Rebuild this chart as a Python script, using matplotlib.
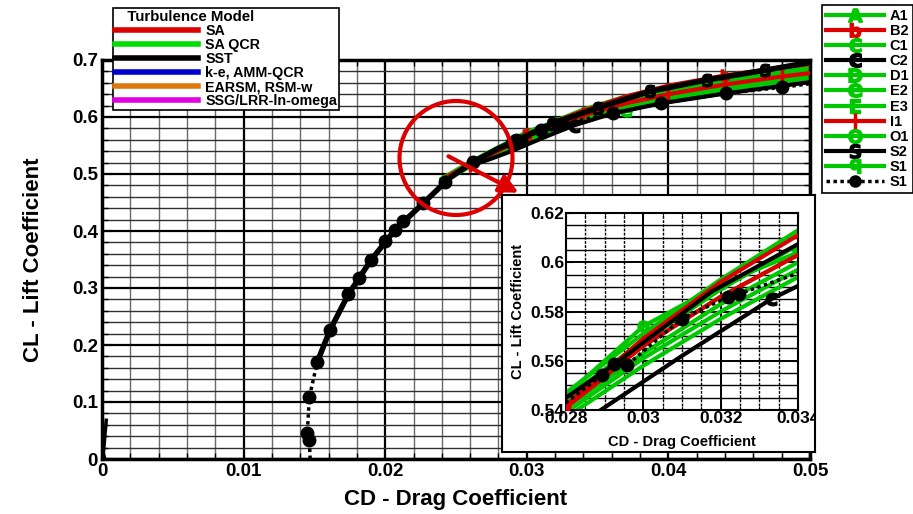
import matplotlib.pyplot as plt
from matplotlib.lines import Line2D
from matplotlib.patches import Ellipse, FancyArrowPatch
from matplotlib.ticker import MultipleLocator, FuncFormatter

plt.rcParams['font.family'] = ['Liberation Sans', 'DejaVu Sans']
plt.rcParams['font.weight'] = 'bold'
plt.rcParams['mathtext.fontset'] = 'dejavusans'

W, H = 913, 514
GREEN = '#00c800'
RED = '#dd0000'

# CD / CL polars
cd_bundle = [0.024, 0.026, 0.028, 0.030, 0.032, 0.034, 0.037, 0.040, 0.044, 0.048, 0.052]
cl_A1 = [0.492, 0.521, 0.547, 0.571, 0.593, 0.613, 0.636, 0.654, 0.671, 0.684, 0.695]
cl_C1 = [0.490, 0.519, 0.545, 0.568, 0.589, 0.607, 0.630, 0.649, 0.667, 0.680, 0.692]
cl_D1 = [0.488, 0.516, 0.541, 0.563, 0.583, 0.600, 0.622, 0.641, 0.660, 0.675, 0.687]
cl_E2 = [0.486, 0.513, 0.537, 0.558, 0.577, 0.594, 0.611, 0.630, 0.648, 0.662, 0.675]
cl_E3 = [0.489, 0.517, 0.543, 0.566, 0.586, 0.603, 0.626, 0.645, 0.663, 0.678, 0.690]
cl_O1 = [0.491, 0.520, 0.546, 0.574, 0.591, 0.604, 0.627, 0.646, 0.664, 0.678, 0.689]
cl_S1q = [0.487, 0.514, 0.539, 0.561, 0.580, 0.597, 0.616, 0.634, 0.652, 0.667, 0.679]
cl_B2 = [0.490, 0.518, 0.542, 0.569, 0.592, 0.611, 0.636, 0.655, 0.673, 0.687, 0.699]
cl_I1 = [0.489, 0.517, 0.541, 0.566, 0.586, 0.603, 0.624, 0.640, 0.657, 0.671, 0.683]

cd_C2 = [0.0262, 0.0275, 0.0289, 0.0310, 0.0333, 0.0361, 0.0395, 0.0441, 0.0505]
cl_C2 = [0.516, 0.527, 0.540, 0.562, 0.585, 0.6065, 0.624, 0.6416, 0.663]

cd_S2 = [0.0152, 0.0161, 0.0174, 0.0190, 0.0207, 0.0227, 0.0245, 0.0262, 0.0280,
         0.0292, 0.03176, 0.0350, 0.0387, 0.0427, 0.0468, 0.0505]
cl_S2 = [0.170, 0.226, 0.289, 0.349, 0.402, 0.449, 0.492, 0.521, 0.545,
         0.558, 0.588, 0.616, 0.645, 0.665, 0.682, 0.698]

cd_S1 = [0.0147, 0.01464, 0.0145, 0.01464, 0.0152, 0.0161, 0.0174, 0.01815, 0.01898,
         0.0200, 0.0207, 0.02128, 0.02269, 0.02422, 0.0262, 0.02894, 0.02924, 0.02958,
         0.03099, 0.03219, 0.03248, 0.0361, 0.0395, 0.0441, 0.0480, 0.0505]
cl_S1 = [0.000, 0.033, 0.045, 0.108, 0.170, 0.226, 0.289, 0.317, 0.349,
         0.383, 0.402, 0.418, 0.449, 0.4865, 0.5216, 0.5541, 0.5588, 0.5582,
         0.5771, 0.5859, 0.5872, 0.6070, 0.6240, 0.6416, 0.6520, 0.6600]

cd_origin = [0.0002, 0.0001, 0.0002, 0.0003]
cl_origin = [0.000, 0.010, 0.040, 0.068]

model_names = ['SA', 'SA QCR', 'SST', 'k-e, AMM-QCR', 'EARSM, RSM-w', 'SSG/LRR-ln-omega']
model_colors = [RED, '#00dd00', 'black', '#0000cc', '#e07810', '#e000e0']

green_series = [('A1', cl_A1, r'$\mathsf{A}$'), ('C1', cl_C1, r'$\mathsf{C}$'),
                ('D1', cl_D1, r'$\mathsf{D}$'), ('E2', cl_E2, r'$\mathsf{e}$'),
                ('E3', cl_E3, r'$\mathrm{E}$'), ('O1', cl_O1, r'$\mathsf{O}$'),
                ('S1', cl_S1q, r'$\mathsf{q}$')]


def draw_curves(ax, inset):
    lw = 3
    for i, (name, cl, mk) in enumerate(green_series):
        if inset:
            every = [3, 4, 5] if name == 'O1' else []
        else:
            every = (0.1 + 0.04 * i, 0.3)
        ax.plot(cd_bundle, cl, color=GREEN, lw=lw, marker=mk, ms=8,
                markevery=every, zorder=2)
    ax.plot(cd_bundle, cl_B2, color=RED, lw=lw, marker=r'$\mathsf{b}$', ms=8,
            markevery=[2] if inset else (0.12, 0.25), zorder=3)
    ax.plot(cd_bundle, cl_I1, color=RED, lw=lw, marker='|', ms=11, mew=2.5,
            markevery=[] if inset else (0.05, 0.08), zorder=3)
    ax.plot(cd_C2, cl_C2, color='black', lw=lw, marker=r'$\mathsf{c}$', ms=9,
            markevery=[4], zorder=4)
    ax.plot(cd_S2, cl_S2, color='black', lw=3 if inset else 4, marker=r'$\mathsf{S}$', ms=9,
            markevery=[] if inset else list(range(9, 15)), zorder=4)
    ax.plot(cd_S1, cl_S1, color='black', lw=2.5, ls=(0, (1, 1)), marker='o', ms=9,
            markevery=list(range(1, len(cd_S1))), zorder=5)
    if not inset:
        ax.plot(cd_origin, cl_origin, color='black', lw=2.5, zorder=5)


fig = plt.figure(figsize=(W / 100, H / 100), dpi=100)

# main axes
ax = fig.add_axes([102 / W, 1 - 459 / H, (810 - 102) / W, (459 - 60) / H])
ax.set_zorder(0)
ax.set_xlim(0, 0.05)
ax.set_ylim(0, 0.7)
ax.xaxis.set_major_locator(MultipleLocator(0.01))
ax.xaxis.set_minor_locator(MultipleLocator(0.002))
ax.yaxis.set_major_locator(MultipleLocator(0.1))
ax.yaxis.set_minor_locator(MultipleLocator(0.02))
fmt = FuncFormatter(lambda v, p: '%g' % round(v, 6))
ax.xaxis.set_major_formatter(fmt)
ax.yaxis.set_major_formatter(fmt)
ax.grid(which='minor', axis='x', color='#6a6a6a', lw=1.0)
ax.grid(which='minor', axis='y', color='#303030', lw=1.0)
ax.grid(which='major', color='black', lw=1.6)
ax.set_axisbelow(True)
for s in ax.spines.values():
    s.set_linewidth(2.5)
ax.tick_params(which='both', direction='in', top=True, right=True, labelsize=13.5, pad=3)
ax.tick_params(which='major', length=7, width=1.5)
ax.tick_params(which='minor', length=4, width=1)
ax.set_xlabel('CD - Drag Coefficient', fontsize=16, fontweight='bold', labelpad=6)
ax.set_ylabel('CL - Lift Coefficient', fontsize=16, fontweight='bold', labelpad=20)
draw_curves(ax, inset=False)

# highlight circle and arrow
circ = Ellipse((456 / W, 1 - 158 / H), 113 / W, 114 / H, transform=fig.transFigure,
               fill=False, ec=RED, lw=3, zorder=2)
fig.add_artist(circ)
arr = FancyArrowPatch((446 / W, 1 - 155 / H), (521 / W, 1 - 194 / H),
                      transform=fig.transFigure, arrowstyle='-|>', mutation_scale=28,
                      color=RED, lw=3, zorder=2)
fig.add_artist(arr)

# inset frame
box = fig.add_axes([502 / W, 1 - 452 / H, 313 / W, 257 / H])
box.set_zorder(3)
box.set_xticks([])
box.set_yticks([])
for s in box.spines.values():
    s.set_linewidth(1.5)

axi = fig.add_axes([566 / W, 1 - 410 / H, (798 - 566) / W, (410 - 213) / H])
axi.set_zorder(4)
axi.set_xlim(0.028, 0.034)
axi.set_ylim(0.54, 0.62)
axi.xaxis.set_major_locator(MultipleLocator(0.002))
axi.xaxis.set_minor_locator(MultipleLocator(0.0005))
axi.yaxis.set_major_locator(MultipleLocator(0.02))
axi.yaxis.set_minor_locator(MultipleLocator(0.005))
axi.xaxis.set_major_formatter(fmt)
axi.yaxis.set_major_formatter(fmt)
axi.grid(which='minor', axis='x', color='black', lw=1.0, ls=(0, (2, 1)))
axi.grid(which='minor', axis='y', color='black', lw=1.0)
axi.grid(which='major', color='black', lw=1.4)
axi.set_axisbelow(True)
for s in axi.spines.values():
    s.set_linewidth(1.5)
axi.tick_params(which='both', direction='in', top=True, right=True, labelsize=12.5, pad=1)
axi.tick_params(which='major', length=5)
axi.tick_params(which='minor', length=3)
axi.set_xlabel('CD - Drag Coefficient', fontsize=10.5, fontweight='bold', labelpad=6)
axi.set_ylabel('CL - Lift Coefficient', fontsize=10.5, fontweight='bold', labelpad=4)
draw_curves(axi, inset=True)
for t in axi.get_xticklabels():
    t.set_clip_box(box.bbox)
    t.set_clip_on(True)

# turbulence model legend
model_handles = [Line2D([], [], color=c, lw=4) for c in model_colors]
leg1 = fig.legend(model_handles, model_names, loc='upper left',
                  bbox_to_anchor=(113 / W, 1 - 8 / H), bbox_transform=fig.transFigure,
                  title='   Turbulence Model', title_fontproperties={'size': 10.8, 'weight': 'bold'},
                  prop={'size': 10.3, 'weight': 'bold'}, handlelength=5.8, handletextpad=0.5,
                  labelspacing=0.0, borderpad=0.15, borderaxespad=0, fancybox=False,
                  edgecolor='black', framealpha=1)
leg1.get_frame().set_linewidth(1.2)
leg1._legend_box.align = 'left'

# case legend
case_names = ['A1', 'B2', 'C1', 'C2', 'D1', 'E2', 'E3', 'I1', 'O1', 'S2', 'S1', 'S1']
case_handles = [
    Line2D([], [], color=GREEN, lw=3, marker=r'$\mathsf{A}$', ms=10),
    Line2D([], [], color=RED, lw=3, marker=r'$\mathsf{b}$', ms=10),
    Line2D([], [], color=GREEN, lw=3, marker=r'$\mathsf{C}$', ms=10),
    Line2D([], [], color='black', lw=3, marker=r'$\mathsf{c}$', ms=10),
    Line2D([], [], color=GREEN, lw=3, marker=r'$\mathsf{D}$', ms=10),
    Line2D([], [], color=GREEN, lw=3, marker=r'$\mathsf{e}$', ms=10),
    Line2D([], [], color=GREEN, lw=3, marker=r'$\mathrm{E}$', ms=10),
    Line2D([], [], color=RED, lw=3, marker='|', ms=12, mew=2.5),
    Line2D([], [], color=GREEN, lw=3, marker=r'$\mathsf{O}$', ms=10),
    Line2D([], [], color='black', lw=3, marker=r'$\mathsf{S}$', ms=10),
    Line2D([], [], color=GREEN, lw=3, marker=r'$\mathsf{q}$', ms=10),
    Line2D([], [], color='black', lw=2.5, ls=(0, (1, 1)), marker='o', ms=8),
]
leg2 = fig.legend(case_handles, case_names, loc='upper left',
                  bbox_to_anchor=(822 / W, 1 - 5 / H), bbox_transform=fig.transFigure,
                  prop={'size': 10.5, 'weight': 'bold'}, handlelength=4.0, handletextpad=0.4,
                  labelspacing=0.08, borderpad=0.25, borderaxespad=0, fancybox=False,
                  edgecolor='black', framealpha=1)
leg2.get_frame().set_linewidth(1.2)

fig.savefig('out.png', dpi=100)
